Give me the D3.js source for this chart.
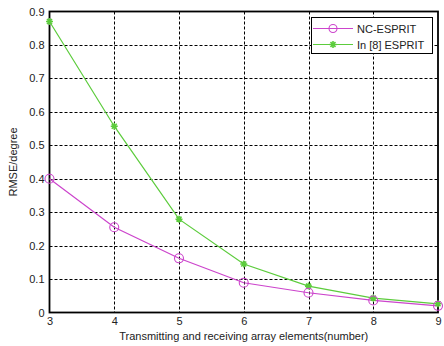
<!DOCTYPE html>
<html>
<head>
<meta charset="utf-8">
<script src="https://cdn.jsdelivr.net/npm/d3@7"></script>
<style>
  body { margin: 0; background: #fff; }
  text { font-family: "Liberation Sans", Arial, sans-serif; }
</style>
</head>
<body>
<div id="chart"></div>
<script>
const elements = [3, 4, 5, 6, 7, 8, 9];
const ncEsprit = [0.40, 0.255, 0.162, 0.089, 0.059, 0.036, 0.020];
const refEsprit = [0.87, 0.557, 0.279, 0.145, 0.079, 0.043, 0.026];
const yTicks = [0, 0.1, 0.2, 0.3, 0.4, 0.5, 0.6, 0.7, 0.8, 0.9];
const seriesNames = ["NC-ESPRIT", "In [8] ESPRIT"];

const W = 444, H = 346;
const m = {left: 49.5, right: 6, top: 11.5, bottom: 33.5};
const magenta = "#cc44cc", green = "#5ccc3c";

const svg = d3.select("#chart").append("svg")
  .attr("width", W).attr("height", H);

const x = d3.scaleLinear().domain([3, 9]).range([m.left, W - m.right]);
const y = d3.scaleLinear().domain([0, 0.9]).range([H - m.bottom, m.top]);

// grid
svg.append("g").selectAll("line").data(yTicks.slice(1, -1)).enter().append("line")
  .attr("x1", m.left).attr("x2", W - m.right)
  .attr("y1", d => Math.round(y(d)) + 0.5).attr("y2", d => Math.round(y(d)) + 0.5)
  .attr("stroke", "#000").attr("stroke-dasharray", "3,2").attr("stroke-width", 1);
svg.append("g").selectAll("line").data(elements.slice(1, -1)).enter().append("line")
  .attr("y1", m.top).attr("y2", H - m.bottom)
  .attr("x1", d => Math.round(x(d)) + 0.5).attr("x2", d => Math.round(x(d)) + 0.5)
  .attr("stroke", "#000").attr("stroke-dasharray", "3,2").attr("stroke-width", 1);

// axes
const xAxis = svg.append("g").attr("transform", `translate(0,${H - m.bottom})`)
  .call(d3.axisBottom(x).tickValues(elements).tickFormat(d3.format("d")).tickSize(0).tickPadding(5));
const yAxis = svg.append("g").attr("transform", `translate(${m.left},0)`)
  .call(d3.axisLeft(y).tickValues(yTicks).tickFormat(d => d === 0 ? "0" : d3.format(".1f")(d)).tickSize(0).tickPadding(5));
[xAxis, yAxis].forEach(a => {
  a.select(".domain").remove();
  a.selectAll("text").attr("font-size", 11).attr("fill", "#222");
});

// frame
svg.append("rect").attr("x", m.left).attr("y", m.top)
  .attr("width", W - m.right - m.left).attr("height", H - m.bottom - m.top)
  .attr("fill", "none").attr("stroke", "#000").attr("stroke-width", 1.8);

const line = d3.line().x((d, i) => x(elements[i])).y(d => y(d));

// series
svg.append("path").datum(refEsprit).attr("d", line)
  .attr("fill", "none").attr("stroke", green).attr("stroke-width", 1.2);
svg.append("path").datum(ncEsprit).attr("d", line)
  .attr("fill", "none").attr("stroke", magenta).attr("stroke-width", 1.2);

const star = d3.symbol().type(d3.symbolAsterisk || d3.symbolCross).size(40);
function drawStar(g, cx, cy) {
  g.append("path").attr("d", "M-3.5,0H3.5M0,-3.5V3.5M-2.5,-2.5L2.5,2.5M-2.5,2.5L2.5,-2.5")
    .attr("transform", `translate(${cx},${cy})`)
    .attr("stroke", green).attr("stroke-width", 1.6).attr("fill", "none");
}
const mk = svg.append("g");
refEsprit.forEach((d, i) => drawStar(mk, x(elements[i]), y(d)));
svg.append("g").selectAll("circle").data(ncEsprit).enter().append("circle")
  .attr("cx", (d, i) => x(elements[i])).attr("cy", d => y(d)).attr("r", 4.5)
  .attr("fill", "none").attr("stroke", magenta).attr("stroke-width", 1.1);

// labels
svg.append("text").attr("x", (m.left + W - m.right) / 2).attr("y", H - 6)
  .attr("text-anchor", "middle").attr("font-size", 11).attr("fill", "#222")
  .text("Transmitting and receiving array elements(number)");
svg.append("text").attr("transform", `translate(17,${(m.top + H - m.bottom) / 2}) rotate(-90)`)
  .attr("text-anchor", "middle").attr("font-size", 11).attr("fill", "#222")
  .text("RMSE/degree");

// legend
const lg = svg.append("g");
lg.append("rect").attr("x", 311.5).attr("y", 17.5).attr("width", 121).attr("height", 36)
  .attr("fill", "#fff").attr("stroke", "#000").attr("stroke-width", 1);
[magenta, green].forEach((c, i) => {
  const ly = 28.5 + i * 16;
  lg.append("line").attr("x1", 313).attr("x2", 353).attr("y1", ly).attr("y2", ly)
    .attr("stroke", c).attr("stroke-width", 1.2);
  if (i === 0) {
    lg.append("circle").attr("cx", 333).attr("cy", ly).attr("r", 4)
      .attr("fill", "none").attr("stroke", c).attr("stroke-width", 1.1);
  } else {
    drawStar(lg, 333, ly);
  }
  lg.append("text").attr("x", 357).attr("y", ly + 4).attr("font-size", 11).attr("fill", "#222")
    .text(seriesNames[i]);
});
</script>
</body>
</html>
